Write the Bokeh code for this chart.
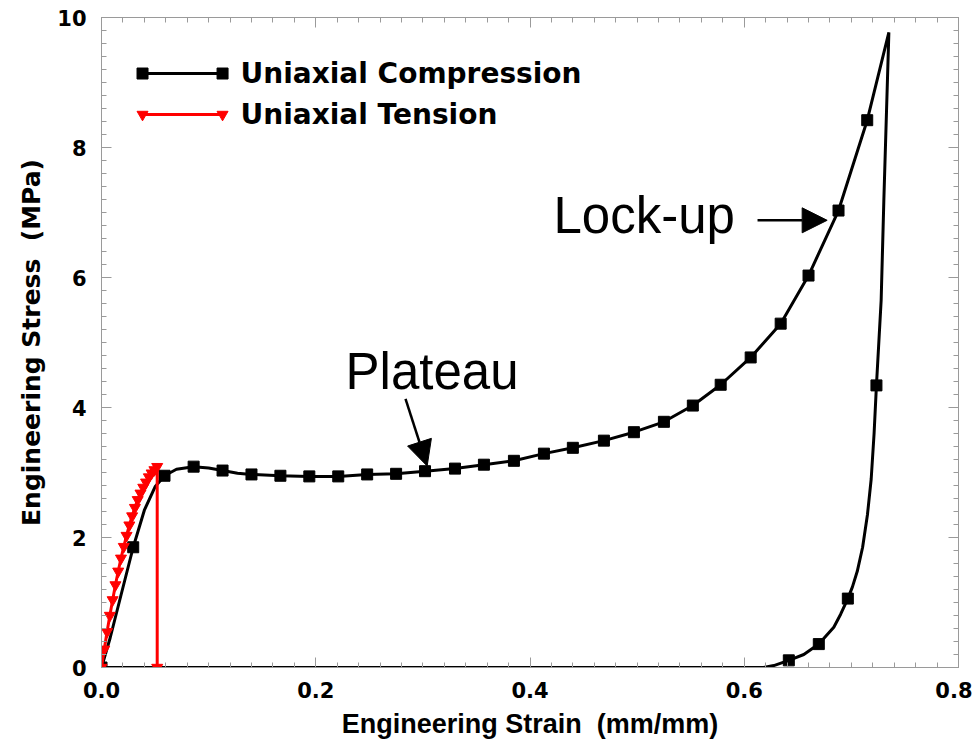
from bokeh.plotting import figure
from bokeh.models import (Range1d, LinearAxis, FixedTicker, Arrow, NormalHead, Label,
                          CustomJSTickFormatter)
from bokeh.embed import file_html
from bokeh.resources import INLINE

# ---- data ----
# Uniaxial compression: loading + unloading path (line vertices)
comp_line_strain = [0.0, 0.008, 0.018, 0.0296, 0.04, 0.05, 0.0588, 0.07, 0.086, 0.1, 0.113, 0.127,
                    0.140, 0.167, 0.194, 0.221, 0.248, 0.275, 0.302, 0.330, 0.357, 0.385, 0.413,
                    0.440, 0.469, 0.497, 0.525, 0.552, 0.578, 0.606, 0.634, 0.660, 0.688, 0.7148,
                    0.735, 0.7303, 0.7278, 0.7234, 0.7212, 0.7185, 0.7150, 0.7105, 0.7055, 0.7010,
                    0.6967, 0.6900, 0.6836, 0.6696, 0.6556, 0.6416, 0.6276, 0.618, 0.0]
comp_line_stress = [0.0, 0.45, 1.10, 1.85, 2.42, 2.78, 2.95, 3.05, 3.09, 3.07, 3.03, 2.99,
                    2.97, 2.95, 2.94, 2.94, 2.97, 2.98, 3.02, 3.06, 3.12, 3.18, 3.29,
                    3.38, 3.49, 3.62, 3.78, 4.03, 4.35, 4.77, 5.29, 6.03, 7.03, 8.42,
                    9.77, 7.18, 5.65, 4.34, 3.60, 2.90, 2.35, 1.85, 1.48, 1.24,
                    1.06, 0.82, 0.62, 0.36, 0.20, 0.11, 0.03, 0.0, 0.0]
# Compression markers
comp_mark_strain = [0.0, 0.0296, 0.0588, 0.086, 0.113, 0.140, 0.167, 0.194, 0.221, 0.248, 0.275,
                    0.302, 0.330, 0.357, 0.385, 0.413, 0.440, 0.469, 0.497, 0.525, 0.552, 0.578,
                    0.606, 0.634, 0.660, 0.688, 0.7148, 0.7234, 0.6967, 0.6696, 0.6416]
comp_mark_stress = [0.0, 1.85, 2.95, 3.09, 3.03, 2.97, 2.95, 2.94, 2.94, 2.97, 2.98,
                    3.02, 3.06, 3.12, 3.18, 3.29, 3.38, 3.49, 3.62, 3.78, 4.03, 4.35,
                    4.77, 5.29, 6.03, 7.03, 8.42, 4.34, 1.06, 0.36, 0.11]
# Uniaxial tension
tens_strain = [0.0, 0.0026, 0.0052, 0.0078, 0.0104, 0.013, 0.0156, 0.0182, 0.0208, 0.0234, 0.026,
               0.0286, 0.0312, 0.0338, 0.0364, 0.039, 0.0416, 0.0442, 0.0468, 0.0494, 0.052, 0.052]
tens_stress = [0.0, 0.28, 0.55, 0.80, 1.04, 1.27, 1.48, 1.68, 1.86, 2.03, 2.19,
               2.33, 2.46, 2.58, 2.68, 2.77, 2.85, 2.93, 2.99, 3.04, 3.09, 0.0]

x_ticks = [0.0, 0.2, 0.4, 0.6, 0.8]
x_tick_labels = ["0.0", "0.2", "0.4", "0.6", "0.8"]
y_ticks = [0, 2, 4, 6, 8, 10]
y_tick_labels = ["0", "2", "4", "6", "8", "10"]

series_names = ["Uniaxial Compression", "Uniaxial Tension"]
annotations = ["Plateau", "Lock-up"]

# ---- figure ----
p = figure(width=972, height=745, x_range=Range1d(0, 0.8), y_range=Range1d(0, 10),
           output_backend="svg", toolbar_location=None,
           min_border_left=101, min_border_right=14, min_border_top=17, min_border_bottom=78)
p.xgrid.visible = False
p.ygrid.visible = False
p.outline_line_color = "#9a9a9a"
p.outline_line_width = 1
p.background_fill_color = "white"
p.border_fill_color = "white"

TICK_FONT = "DejaVu Sans"
GRAY = "#9a9a9a"


def style_axis(ax, show_labels):
    ax.axis_line_color = GRAY
    ax.major_tick_line_color = GRAY
    ax.minor_tick_line_color = GRAY
    ax.major_tick_in = 10
    ax.major_tick_out = 0
    ax.minor_tick_in = 5
    ax.minor_tick_out = 0
    if show_labels:
        ax.major_label_text_font = TICK_FONT
        ax.major_label_text_font_style = "bold"
        ax.major_label_text_font_size = "21px"
        ax.major_label_text_color = "black"
    else:
        ax.formatter = CustomJSTickFormatter(code="return '';")
        ax.major_label_standoff = 0


xt = FixedTicker(ticks=x_ticks, minor_ticks=[i * 0.02 for i in range(41)])
yt = FixedTicker(ticks=y_ticks, minor_ticks=[i * 0.2 for i in range(51)])

xa = p.xaxis[0]
xa.ticker = xt
xa.major_label_overrides = {v: s for v, s in zip(x_ticks, x_tick_labels)}
style_axis(xa, True)
xa.major_label_standoff = 14
xa.axis_label = "Engineering Strain\u00a0 (mm/mm)"
xa.axis_label_text_font = "Liberation Sans"
xa.axis_label_text_font_style = "bold"
xa.axis_label_text_font_size = "27px"
xa.axis_label_text_color = "black"
xa.axis_label_standoff = 8

ya = p.yaxis[0]
ya.ticker = yt
ya.major_label_overrides = {v: s for v, s in zip(y_ticks, y_tick_labels)}
style_axis(ya, True)
ya.major_label_standoff = 15
ya.axis_label = "Engineering Stress\u00a0 (MPa)"
ya.axis_label_text_font = "DejaVu Sans"
ya.axis_label_text_font_style = "bold"
ya.axis_label_text_font_size = "25px"
ya.axis_label_text_color = "black"
ya.axis_label_standoff = 8

top = LinearAxis(ticker=xt)
style_axis(top, False)
p.add_layout(top, "above")
right = LinearAxis(ticker=yt)
style_axis(right, False)
p.add_layout(right, "right")

# ---- data glyphs ----
p.line(comp_line_strain, comp_line_stress, line_color="black", line_width=3)
p.scatter(comp_mark_strain, comp_mark_stress, marker="square", size=11,
          fill_color="black", line_color="black")
p.line(tens_strain, tens_stress, line_color="#ff0000", line_width=3)
p.scatter(tens_strain, tens_stress, marker="inverted_triangle", size=11,
          fill_color="#ff0000", line_color="#ff0000")

# ---- manual legend ----
leg_x0, leg_x1, leg_tx = 0.0383, 0.113, 0.1298
leg_y = [9.138, 8.508]
leg_colors = ["black", "#ff0000"]
leg_markers = ["square", "inverted_triangle"]
for name, yy, c, m in zip(series_names, leg_y, leg_colors, leg_markers):
    p.line([leg_x0, leg_x1], [yy, yy], line_color=c, line_width=3)
    p.scatter([leg_x0, leg_x1], [yy, yy], marker=m, size=11, fill_color=c, line_color=c)
    p.add_layout(Label(x=leg_tx, y=yy, text=name, text_font="DejaVu Sans",
                       text_font_style="bold", text_font_size="28px",
                       text_baseline="middle", text_color="black"))

# ---- annotations ----
p.add_layout(Label(x=0.2278, y=4.56, text=annotations[0], text_font="Liberation Sans",
                   text_font_size="51px", text_baseline="alphabetic", text_color="black"))
p.add_layout(Arrow(end=NormalHead(size=25, fill_color="black", line_color="black"),
                   x_start=0.2838, y_start=4.134, x_end=0.304, y_end=3.10,
                   line_color="black", line_width=2.5))

p.add_layout(Label(x=0.4219, y=6.96, text=annotations[1], text_font="Liberation Sans",
                   text_font_size="51px", text_baseline="alphabetic", text_color="black"))
p.add_layout(Arrow(end=NormalHead(size=25, fill_color="black", line_color="black"),
                   x_start=0.6124, y_start=6.88, x_end=0.6774, y_end=6.88,
                   line_color="black", line_width=2.5))

open("out.html", "w").write(file_html(p, INLINE))
